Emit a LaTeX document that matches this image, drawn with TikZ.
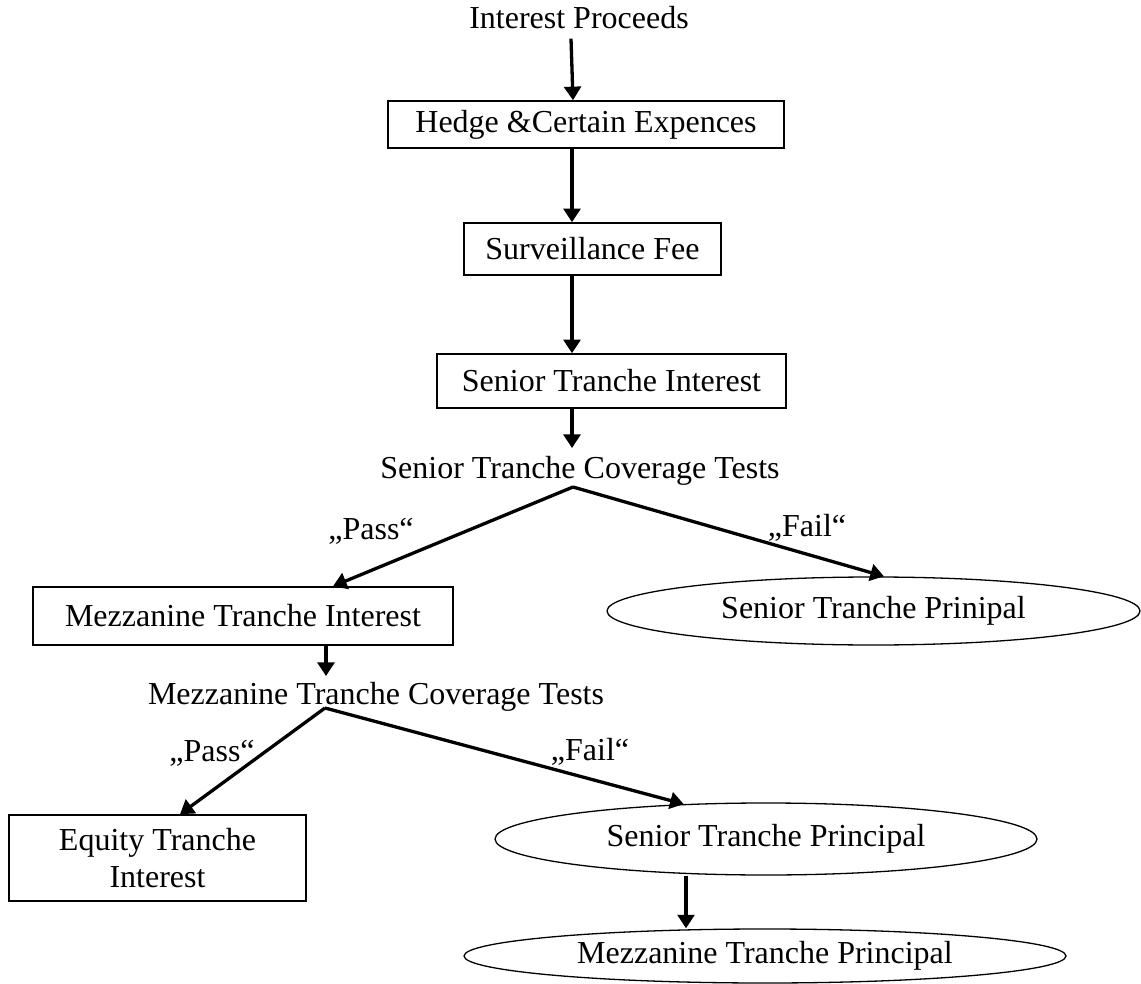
\documentclass[tikz,border=0pt]{standalone}
\usepackage{fontspec}
\setmainfont{Liberation Serif}
\usetikzlibrary{shapes.geometric,arrows.meta}
\begin{document}
\begin{tikzpicture}[x=0.5pt,y=-0.5pt,
  every node/.style={font=\fontsize{16pt}{18.4pt}\selectfont, inner sep=0pt},
  stepbox/.style={draw, line width=0.75pt, rectangle},
  oval/.style={draw, line width=0.65pt, ellipse},
  flow/.style={line width=1.65pt, -{Triangle[length=6.8pt,width=8.4pt]}}]
\useasboundingbox (0,0) rectangle (1141,984);

% vertical guide lines for the straight connectors
\coordinate (spine) at (572,0);
\coordinate (col1) at (326,0);
\coordinate (col2) at (686,0);

% main chain
\node (ip) at (579,18) {Interest Proceeds};
\node[stepbox, minimum width=198pt, minimum height=23.5pt] (h) at (586,124.5) {Hedge \&Certain Expences};
\node[stepbox, minimum width=128.5pt, minimum height=26pt] (s) at (592.5,249) {Surveillance Fee};
\node[stepbox, minimum width=174.5pt, minimum height=27pt] (sti) at (611.5,381) {Senior Tranche Interest};
\node (stct) at (580,471) {Senior Tranche Coverage Tests};
\coordinate (stfork) at (573,487);
\coordinate (stcttop) at ([yshift=4pt]stct.north);

% senior test outcomes
\node[stepbox, minimum width=210pt, minimum height=29pt] (mzi) at (243,616) {Mezzanine Tranche Interest};
\node[oval, minimum width=266.5pt, minimum height=34pt] (stp) at (873.5,611) {Senior Tranche Prinipal};
\node (mtct) at (376,697) {Mezzanine Tranche Coverage Tests};
\coordinate (mzfork) at (325,708);
\coordinate (mtcttop) at ([yshift=3pt]mtct.north);

% mezzanine test outcomes
\node[stepbox, minimum width=148.5pt, minimum height=43pt, align=center] (eti) at (157.5,858) {Equity Tranche\\Interest};
\node[oval, minimum width=271pt, minimum height=36pt] (stp2) at (766,839) {Senior Tranche Principal};
\node[oval, minimum width=301pt, minimum height=27pt] (mzp) at (765,956) {Mezzanine Tranche Principal};

% branch labels
\node (pass1) at (371,531) {„Pass“};
\node (fail1) at (807,528) {„Fail“};
\node (pass2) at (212,753) {„Pass“};
\node (fail2) at (590,752) {„Fail“};

% connectors
\draw[flow] ([xshift=-4pt,yshift=-4.5pt]ip.south) -- ([xshift=-6.5pt]h.north);
\draw[flow] (h.south -| spine) -- (s.north -| spine);
\draw[flow] (s.south -| spine) -- (sti.north -| spine);
\draw[flow] (sti.south -| spine) -- (stcttop -| spine);
\draw[flow] (stfork) -- ([xshift=45pt]mzi.north);
\draw[flow] (stfork) -- ([xshift=5.25pt]stp.north);
\draw[flow] (mzi.south -| col1) -- (mtcttop -| col1);
\draw[flow] (mzfork) -- ([xshift=11.25pt]eti.north);
\draw[flow] (mzfork) -- (stp2.157.5);
\draw[flow] (stp2.south -| col2) -- (mzp.north -| col2);
\end{tikzpicture}
\end{document}
